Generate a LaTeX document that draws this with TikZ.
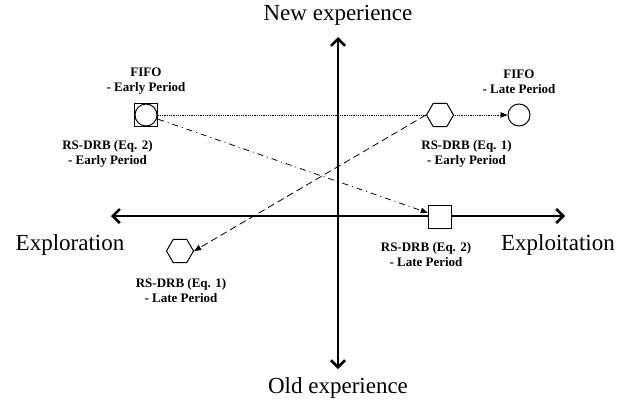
\documentclass[tikz,border=0pt]{standalone}
\usepackage{fontspec}
\setmainfont{Liberation Serif}
\usetikzlibrary{arrows.meta,shapes.geometric,backgrounds}
\begin{document}
\begin{tikzpicture}[x=1pt,y=-1pt,
  axis/.style={line width=2.6pt,{Straight Barb[length=7pt,width=14pt]}-{Straight Barb[length=7pt,width=14pt]}},
  big/.style={font=\fontsize{23}{27}\selectfont, inner sep=0pt},
  lbl/.style={font=\fontsize{13}{15}\selectfont\bfseries, align=center, inner sep=0pt},
  sq/.style={draw, line width=1pt, fill=white, minimum size=23.5pt, inner sep=0pt},
  circ/.style={draw, circle, line width=1pt, fill=white, minimum size=22pt, inner sep=0pt},
  hex/.style={draw, regular polygon, regular polygon sides=6, line width=1pt, fill=white, minimum size=27pt, inner sep=0pt},
  conn/.style={line width=0.8pt, -{Triangle[length=7pt,width=5.5pt]}},
]
\useasboundingbox (0,0) rectangle (636,407);

% axis end points
\coordinate (axL) at (111,216);
\coordinate (axR) at (565,216);
\coordinate (axT) at (338,37);
\coordinate (axB) at (338,369);

% axis labels
\node[big, anchor=base] (newexp) at (338,20) {New experience};
\node[big, anchor=base] (oldexp) at (338,393) {Old experience};
\node[big, anchor=base] (explor) at (70,250) {Exploration};
\node[big, anchor=base] (exploit) at (558,250) {Exploitation};

% markers
\node[sq] (fifoE) at (146,115) {};
\node[circ, minimum size=22pt] (fifoEc) at (fifoE.center) {};
\node[hex] (rs1E) at (440,115) {};
\node[circ] (fifoL) at (519,115) {};
\node[hex] (rs1L) at (180,251) {};
\node[sq] (rs2L) at (440,217) {};

% labels
\node[lbl] (tFifoE) at (146,81.5) {FIFO\\- Early Period};
\node[lbl] (tRs2E) at (107.5,153.5) {RS-DRB (Eq. 2)\\- Early Period};
\node[lbl] (tFifoL) at (519,81.5) {FIFO\\- Late Period};
\node[lbl] (tRs1E) at (466.5,154) {RS-DRB (Eq. 1)\\- Early Period};
\node[lbl] (tRs1L) at (181,290.5) {RS-DRB (Eq. 1)\\- Late Period};
\node[lbl] (tRs2L) at (426,255) {RS-DRB (Eq. 2)\\- Late Period};

\begin{pgfonlayer}{background}
  \draw[axis] (axL) -- (axR);
  \draw[axis] (axB) -- (axT);
  \draw[conn, densely dotted] (fifoE.east) -- (fifoL.west);
  \draw[conn, dash pattern=on 6pt off 4pt on 1pt off 4pt] (fifoE) -- (rs2L);
  \draw[conn, dash pattern=on 7pt off 4pt] (rs1E.west) -- (rs1L.east);
\end{pgfonlayer}
\end{tikzpicture}
\end{document}
